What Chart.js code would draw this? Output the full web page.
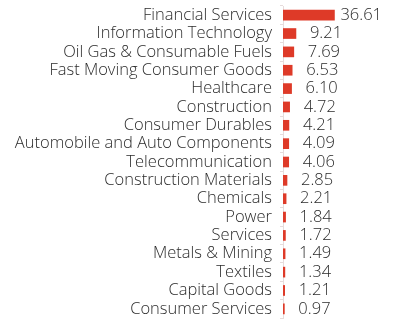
<!DOCTYPE html>
<html>
<head>
<meta charset="utf-8">
<script src="https://cdn.jsdelivr.net/npm/chart.js@4/dist/chart.umd.min.js"></script>
<style>
    html, body { margin: 0; padding: 0; background: #fff; }
    #wrap { width: 394px; height: 325px; }
</style>
</head>
<body>
<div id="wrap"><canvas id="sectorChart"></canvas></div>
<script>
const sectors = [
    'Financial Services',
    'Information Technology',
    'Oil Gas & Consumable Fuels',
    'Fast Moving Consumer Goods',
    'Healthcare',
    'Construction',
    'Consumer Durables',
    'Automobile and Auto Components',
    'Telecommunication',
    'Construction Materials',
    'Chemicals',
    'Power',
    'Services',
    'Metals & Mining',
    'Textiles',
    'Capital Goods',
    'Consumer Services'
];
const weights = [36.61, 9.21, 7.69, 6.53, 6.10, 4.72, 4.21, 4.09, 4.06, 2.85, 2.21, 1.84, 1.72, 1.49, 1.34, 1.21, 0.97];

const FONT = '"Open Sans", sans-serif';
const TEXT = '#2b2b2b';

// value text to the right of each bar, kept inside the canvas
const valueLabels = {
    id: 'valueLabels',
    afterDatasetsDraw(chart) {
        const ctx = chart.ctx;
        const meta = chart.getDatasetMeta(0);
        const right = chart.chartArea.right - 12;
        ctx.save();
        ctx.font = '300 16.5px ' + FONT;
        ctx.fillStyle = TEXT;
        ctx.textBaseline = 'middle';
        ctx.textAlign = 'left';
        meta.data.forEach((bar, i) => {
            const text = weights[i].toFixed(2);
            const w = ctx.measureText(text).width;
            let x = bar.x + 14;
            if (x + w > right) x = right - w;
            ctx.fillText(text, x, bar.y);
        });
        ctx.restore();
    }
};

new Chart(document.getElementById('sectorChart'), {
    type: 'bar',
    data: {
        labels: sectors,
        datasets: [{
            data: weights,
            backgroundColor: '#de3a28',
            barThickness: 10
        }]
    },
    options: {
        indexAxis: 'y',
        responsive: true,
        maintainAspectRatio: false,
        animation: false,
        layout: { padding: { top: 6, right: 0, bottom: 7, left: 0 } },
        plugins: {
            legend: { display: false },
            tooltip: { enabled: false }
        },
        scales: {
            x: {
                display: false,
                min: 0,
                max: 79
            },
            y: {
                // long sector names need more room than the default half-width cap
                afterFit(scale) {
                    scale.width = 283;
                    scale.paddingTop = 0;
                    scale.paddingBottom = 0;
                },
                border: { display: true, color: '#e6dcdc' },
                grid: {
                    drawOnChartArea: false,
                    color: '#e6dcdc',
                    tickLength: 3
                },
                ticks: {
                    autoSkip: false,
                    color: TEXT,
                    padding: 8,
                    font: { family: FONT, size: 16.5, weight: 300 }
                }
            }
        }
    },
    plugins: [valueLabels]
});
</script>
</body>
</html>
